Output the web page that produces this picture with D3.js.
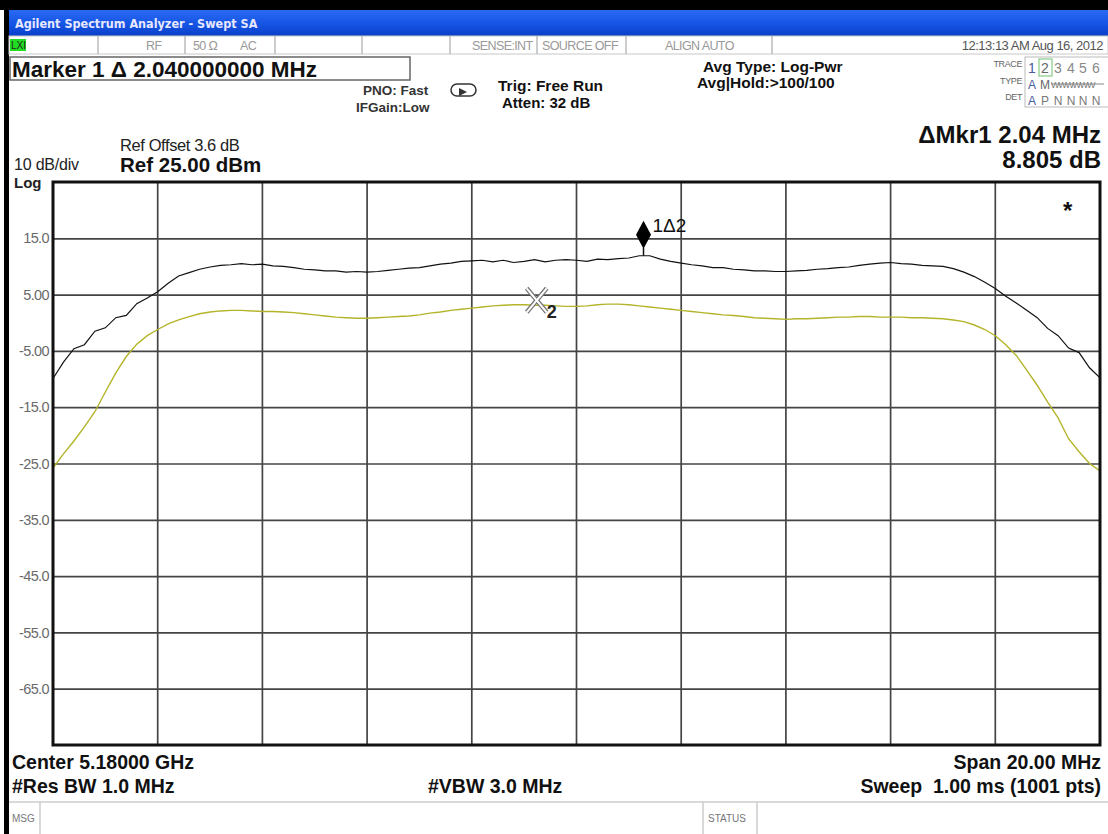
<!DOCTYPE html>
<html>
<head>
<meta charset="utf-8">
<script src="https://cdn.jsdelivr.net/npm/d3@7"></script>
<style>
  html, body { margin: 0; padding: 0; background: #fff; }
  svg { display: block; font-family: "Liberation Sans", Arial, sans-serif; }
</style>
</head>
<body>
<svg id="chart" width="1108" height="834"></svg>
<script>
// ---- Sweep setup ----
const centerLabel = "Center 5.18000 GHz";
const spanLabel = "Span 20.00 MHz";
const freqStartMHz = -10;           // offset from centre
const freqStepMHz = 0.2;            // spacing of the stored trace samples
const refLevel = 25;                // dBm, top of the graticule
const dbPerDiv = 10;
const yTickValues = [15, 5, -5, -15, -25, -35, -45, -55, -65];
const yTickLabels = ["15.0", "5.00", "-5.00", "-15.0", "-25.0", "-35.0", "-45.0", "-55.0", "-65.0"];
const xGridMHz = [-8, -6, -4, -2, 0, 2, 4, 6, 8];

// ---- Trace 1 (average, black) in dBm ----
const trace1 = [
  -9.9, -7.0, -4.6, -3.9, -1.5, -0.9, 0.9, 1.3, 3.4, 4.4,
  5.5, 7.0, 8.3, 8.9, 9.5, 9.9, 10.2, 10.3, 10.5, 10.3,
  10.4, 10.1, 10.0, 9.8, 9.5, 9.4, 9.2, 9.2, 9.0, 9.1,
  9.0, 9.1, 9.3, 9.5, 9.7, 9.8, 10.1, 10.4, 10.6, 10.9,
  11.0, 11.1, 10.8, 11.1, 10.7, 10.9, 11.2, 10.8, 11.1, 11.2,
  11.1, 10.9, 11.3, 11.2, 11.4, 11.5, 11.9, 11.9, 11.3, 10.9,
  10.6, 10.3, 10.1, 9.8, 9.8, 9.5, 9.4, 9.2, 9.2, 9.1,
  9.1, 9.2, 9.3, 9.5, 9.6, 9.8, 9.9, 10.2, 10.4, 10.6,
  10.7, 10.5, 10.4, 10.2, 10.1, 10.0, 9.6, 9.0, 8.2, 7.2,
  6.1, 4.7, 3.5, 2.2, 0.9, -1.0, -2.3, -4.5, -5.3, -8.0, -9.8
];

// ---- Trace 2 (max hold, yellow) in dBm ----
const trace2 = [
  -25.8, -23.3, -21.0, -18.5, -15.8, -12.3, -8.9, -6.0, -3.8, -2.3,
  -1.2, -0.2, 0.5, 1.1, 1.6, 1.9, 2.1, 2.2, 2.2, 2.1,
  2.0, 2.0, 1.9, 1.8, 1.6, 1.4, 1.2, 1.0, 0.9, 0.8,
  0.8, 0.9, 1.0, 1.1, 1.2, 1.4, 1.7, 1.9, 2.2, 2.4,
  2.6, 2.8, 3.0, 3.1, 3.2, 3.2, 3.1, 3.1, 3.0, 2.9,
  2.9, 3.0, 3.2, 3.3, 3.3, 3.2, 3.0, 2.8, 2.6, 2.4,
  2.2, 2.0, 1.8, 1.6, 1.4, 1.3, 1.1, 0.9, 0.8, 0.7,
  0.6, 0.7, 0.7, 0.8, 0.9, 1.0, 1.0, 1.1, 1.1, 1.0,
  1.0, 1.0, 0.9, 0.9, 0.8, 0.7, 0.5, 0.2, -0.4, -1.2,
  -2.3, -3.9, -5.8, -8.4, -11.1, -14.1, -16.9, -20.6, -22.9, -25.0, -26.3
];

// ---- Markers ----
const markerFreqs = [1.28, -0.76];     // MHz offset: marker 1 (delta) and its reference
const markerTraces = [trace1, trace2];
const markerReadout = ["\u0394Mkr1 2.04 MHz", "8.805 dB"];

// ---- Layout ----
const W = 1108, H = 834;
const plot = { left: 53, right: 1100, top: 182, bottom: 745 };
const TRACE1_COLOR = "#111";
const TRACE2_COLOR = "#b4b42a";
const GRID_COLOR = "#444";

const svg = d3.select("#chart");

const x = d3.scaleLinear().domain([-10, 10]).range([plot.left, plot.right]);
const y = d3.scaleLinear().domain([refLevel - 10 * dbPerDiv, refLevel]).range([plot.bottom, plot.top]);

// ---- Window chrome ----
svg.append("rect").attr("width", W).attr("height", H).attr("fill", "#fff");
svg.append("rect").attr("x", 0).attr("y", 0).attr("width", W).attr("height", 10).attr("fill", "#000");
svg.append("rect").attr("x", 4).attr("y", 0).attr("width", 5).attr("height", H).attr("fill", "#000");

const grad = svg.append("defs").append("linearGradient")
  .attr("id", "titleGrad").attr("x1", 0).attr("y1", 0).attr("x2", 0).attr("y2", 1);
grad.append("stop").attr("offset", "0%").attr("stop-color", "#2a6af2");
grad.append("stop").attr("offset", "55%").attr("stop-color", "#1554e4");
grad.append("stop").attr("offset", "100%").attr("stop-color", "#0a3fc8");
svg.append("rect").attr("x", 9).attr("y", 10).attr("width", W - 9).attr("height", 26).attr("fill", "url(#titleGrad)");
svg.append("text").attr("x", 15).attr("y", 28)
  .attr("fill", "#e8e8ff").attr("font-size", 12.5).attr("font-weight", "bold")
  .attr("font-family", "'DejaVu Sans Condensed', 'Liberation Sans', sans-serif")
  .text("Agilent Spectrum Analyzer - Swept SA");

// status strip
const statusRow = svg.append("g");
statusRow.append("rect").attr("x", 9).attr("y", 36).attr("width", W - 9).attr("height", 18)
  .attr("fill", "#fff").attr("stroke", "#c8c8c8");
statusRow.append("rect").attr("x", 10).attr("y", 39).attr("width", 16).attr("height", 12).attr("fill", "#22dd22");
statusRow.append("text").attr("x", 11).attr("y", 49).attr("font-size", 10).attr("fill", "#222").text("LXI");
[98, 185, 275, 362, 450, 537, 626, 772].forEach(sx => {
  statusRow.append("line").attr("x1", sx).attr("x2", sx).attr("y1", 36).attr("y2", 54)
    .attr("stroke", "#bbb").attr("stroke-width", 1.5);
});
const statusItems = [
  ["RF", 146], ["50 \u03a9", 193], ["AC", 240],
  ["SENSE:INT", 472], ["SOURCE OFF", 542], ["ALIGN AUTO", 665]
];
statusItems.forEach(([t, sx]) => {
  statusRow.append("text").attr("x", sx).attr("y", 50).attr("font-size", 12.5)
    .attr("fill", "#999").attr("letter-spacing", -0.6).text(t);
});
statusRow.append("text").attr("x", 1103).attr("y", 50).attr("text-anchor", "end")
  .attr("font-size", 13).attr("fill", "#555").attr("letter-spacing", -0.5)
  .text("12:13:13 AM Aug 16, 2012");

// marker readout box
svg.append("rect").attr("x", 10).attr("y", 57).attr("width", 400).attr("height", 23)
  .attr("fill", "#fff").attr("stroke", "#666").attr("stroke-width", 1.5);
svg.append("text").attr("x", 12).attr("y", 77).attr("font-size", 22.5).attr("font-weight", "bold")
  .attr("fill", "#111").text("Marker 1 \u0394 2.040000000 MHz");

// settings block
const bold = (t, sx, sy, size, anchor, fill) =>
  svg.append("text").attr("x", sx).attr("y", sy).attr("font-size", size)
    .attr("font-weight", "bold").attr("text-anchor", anchor || "start")
    .attr("fill", fill || "#111").text(t);

bold("PNO: Fast", 363, 95, 13.5, "start", "#333");
bold("IFGain:Low", 356, 112, 13.5, "start", "#333");
svg.append("rect").attr("x", 451).attr("y", 84).attr("width", 25).attr("height", 12).attr("rx", 6)
  .attr("fill", "#fff").attr("stroke", "#333").attr("stroke-width", 1.5);
svg.append("path").attr("d", "M459,88 L467,92 L459,96 Z").attr("fill", "#333");
bold("Trig: Free Run", 498, 91, 15.5);
bold("Atten: 32 dB", 502, 108, 15);
bold("Avg Type: Log-Pwr", 703, 72, 15.5);
bold("Avg|Hold:>100/100", 697, 88, 15.5);

// trace table
const tbl = svg.append("g");
tbl.append("rect").attr("x", 1025).attr("y", 57).attr("width", 84).attr("height", 50)
  .attr("fill", "#fff").attr("stroke", "#bbb");
[["TRACE", 67], ["TYPE", 84], ["DET", 100]].forEach(([t, ty]) => {
  tbl.append("text").attr("x", 1022).attr("y", ty).attr("text-anchor", "end")
    .attr("font-size", 9).attr("fill", "#666").attr("letter-spacing", -0.4).text(t);
});
const colX = [1032, 1045, 1058, 1071, 1083, 1096];
tbl.append("rect").attr("x", 1039).attr("y", 59).attr("width", 13).attr("height", 17)
  .attr("fill", "none").attr("stroke", "#8c8").attr("stroke-width", 1.2);
["1", "2", "3", "4", "5", "6"].forEach((t, i) => {
  tbl.append("text").attr("x", colX[i]).attr("y", 73).attr("text-anchor", "middle")
    .attr("font-size", 14).attr("fill", i === 0 ? "#4a5a9a" : (i === 1 ? "#666" : "#888")).text(t);
});
tbl.append("text").attr("x", colX[0]).attr("y", 89).attr("text-anchor", "middle")
  .attr("font-size", 12).attr("fill", "#4a5a9a").text("A");
tbl.append("text").attr("x", colX[1]).attr("y", 89).attr("text-anchor", "middle")
  .attr("font-size", 12).attr("fill", "#666").text("M");
tbl.append("text").attr("x", 1051).attr("y", 88).attr("font-size", 9).attr("fill", "#777")
  .attr("letter-spacing", -1.3).text("WWWWWW");
tbl.append("line").attr("x1", 1051).attr("x2", 1104).attr("y1", 84).attr("y2", 84).attr("stroke", "#888");
["A", "P", "N", "N", "N", "N"].forEach((t, i) => {
  tbl.append("text").attr("x", colX[i]).attr("y", 105).attr("text-anchor", "middle")
    .attr("font-size", 12).attr("fill", i === 0 ? "#4a5a9a" : "#777").text(t);
});

// reference and scale annotations
svg.append("text").attr("x", 120).attr("y", 151).attr("font-size", 16.5).attr("fill", "#222")
  .attr("letter-spacing", -0.4).text("Ref Offset 3.6 dB");
bold("Ref 25.00 dBm", 120, 172, 20.5);
svg.append("text").attr("x", 14).attr("y", 170).attr("font-size", 16).attr("fill", "#222")
  .attr("letter-spacing", -0.2).text("10 dB/div");
bold("Log", 14, 188, 15, "start", "#222");
bold(markerReadout[0], 1101, 143, 24, "end");
bold(markerReadout[1], 1101, 168, 24, "end");

// ---- Graticule ----
const gridG = svg.append("g");
const yAxis = d3.axisLeft(y)
  .tickValues(yTickValues)
  .tickFormat((d, i) => yTickLabels[i])
  .tickSize(-(plot.right - plot.left))
  .tickPadding(4);
const yAxisG = gridG.append("g").attr("transform", `translate(${plot.left},0)`).call(yAxis);
yAxisG.select(".domain").remove();
yAxisG.selectAll("line").attr("stroke", GRID_COLOR).attr("stroke-width", 1.7);
yAxisG.selectAll("text").attr("fill", "#6a6a6a").attr("font-size", 14.5)
  .attr("font-family", "'Liberation Sans', Arial, sans-serif").attr("letter-spacing", -0.6);

gridG.selectAll("line.vgrid").data(xGridMHz).join("line")
  .attr("class", "vgrid")
  .attr("x1", d => x(d)).attr("x2", d => x(d))
  .attr("y1", plot.top).attr("y2", plot.bottom)
  .attr("stroke", GRID_COLOR).attr("stroke-width", 1.7);

// ---- Traces ----
const freqOf = i => freqStartMHz + i * freqStepMHz;
const line = d3.line().x((d, i) => x(freqOf(i))).y(d => y(d));
svg.append("clipPath").attr("id", "plotClip").append("rect")
  .attr("x", plot.left).attr("y", plot.top)
  .attr("width", plot.right - plot.left).attr("height", plot.bottom - plot.top);

const tracesG = svg.append("g").attr("clip-path", "url(#plotClip)");
tracesG.append("path").datum(trace2).attr("d", line)
  .attr("fill", "none").attr("stroke", TRACE2_COLOR).attr("stroke-width", 1.4);
tracesG.append("path").datum(trace1).attr("d", line)
  .attr("fill", "none").attr("stroke", TRACE1_COLOR).attr("stroke-width", 1.2);

// plot frame
svg.append("rect").attr("x", plot.left).attr("y", plot.top)
  .attr("width", plot.right - plot.left).attr("height", plot.bottom - plot.top)
  .attr("fill", "none").attr("stroke", "#111").attr("stroke-width", 3);

// ---- Markers ----
const levelAt = (trace, f) => {
  const pos = (f - freqStartMHz) / freqStepMHz;
  const i0 = Math.floor(pos), t = pos - i0;
  return trace[i0] * (1 - t) + trace[Math.min(i0 + 1, trace.length - 1)] * t;
};
const m1x = x(markerFreqs[0]), m1y = y(levelAt(markerTraces[0], markerFreqs[0]));
const m2x = x(markerFreqs[1]), m2y = y(levelAt(markerTraces[1], markerFreqs[1]));

// delta marker: diamond on a short stem
svg.append("line").attr("x1", m1x).attr("x2", m1x).attr("y1", m1y).attr("y2", m1y - 8)
  .attr("stroke", "#111").attr("stroke-width", 1.5);
svg.append("path")
  .attr("d", `M${m1x},${m1y - 35} L${m1x + 7.5},${m1y - 21} L${m1x},${m1y - 7} L${m1x - 7.5},${m1y - 21} Z`)
  .attr("fill", "#000");
svg.append("text").attr("x", m1x + 9).attr("y", m1y - 24).attr("font-size", 19)
  .attr("fill", "#111").text("1\u03942");

// reference marker: hollow X
const xs = 10;
const xPath = `M${m2x - xs},${m2y - 17} L${m2x + xs},${m2y + 7} M${m2x + xs},${m2y - 17} L${m2x - xs},${m2y + 7}`;
svg.append("path").attr("d", xPath).attr("stroke", "#777").attr("stroke-width", 4.5).attr("fill", "none");
svg.append("path").attr("d", xPath).attr("stroke", "#fff").attr("stroke-width", 2).attr("fill", "none");
bold("2", m2x + 10, m2y + 13, 18, "start", "#222");

// trace-2 update indicator
bold("*", 1063, 219, 24);

// ---- Footer ----
bold(centerLabel, 12, 769, 19.5);
bold("#Res BW 1.0 MHz", 12, 793, 19.5);
bold("#VBW 3.0 MHz", 428, 793, 19.5);
bold(spanLabel, 1101, 769, 19.5, "end");
bold("Sweep\u00a0\u00a01.00 ms (1001 pts)", 1101, 793, 19.5, "end");

svg.append("line").attr("x1", 9).attr("x2", W).attr("y1", 802).attr("y2", 802).attr("stroke", "#ccc").attr("stroke-width", 1.5);
[40, 703, 757].forEach(sx => {
  svg.append("line").attr("x1", sx).attr("x2", sx).attr("y1", 802).attr("y2", H)
    .attr("stroke", "#ccc").attr("stroke-width", 1.5);
});
svg.append("text").attr("x", 12).attr("y", 822).attr("font-size", 10).attr("fill", "#777").text("MSG");
svg.append("text").attr("x", 708).attr("y", 822).attr("font-size", 10).attr("fill", "#777").text("STATUS");
</script>
</body>
</html>
